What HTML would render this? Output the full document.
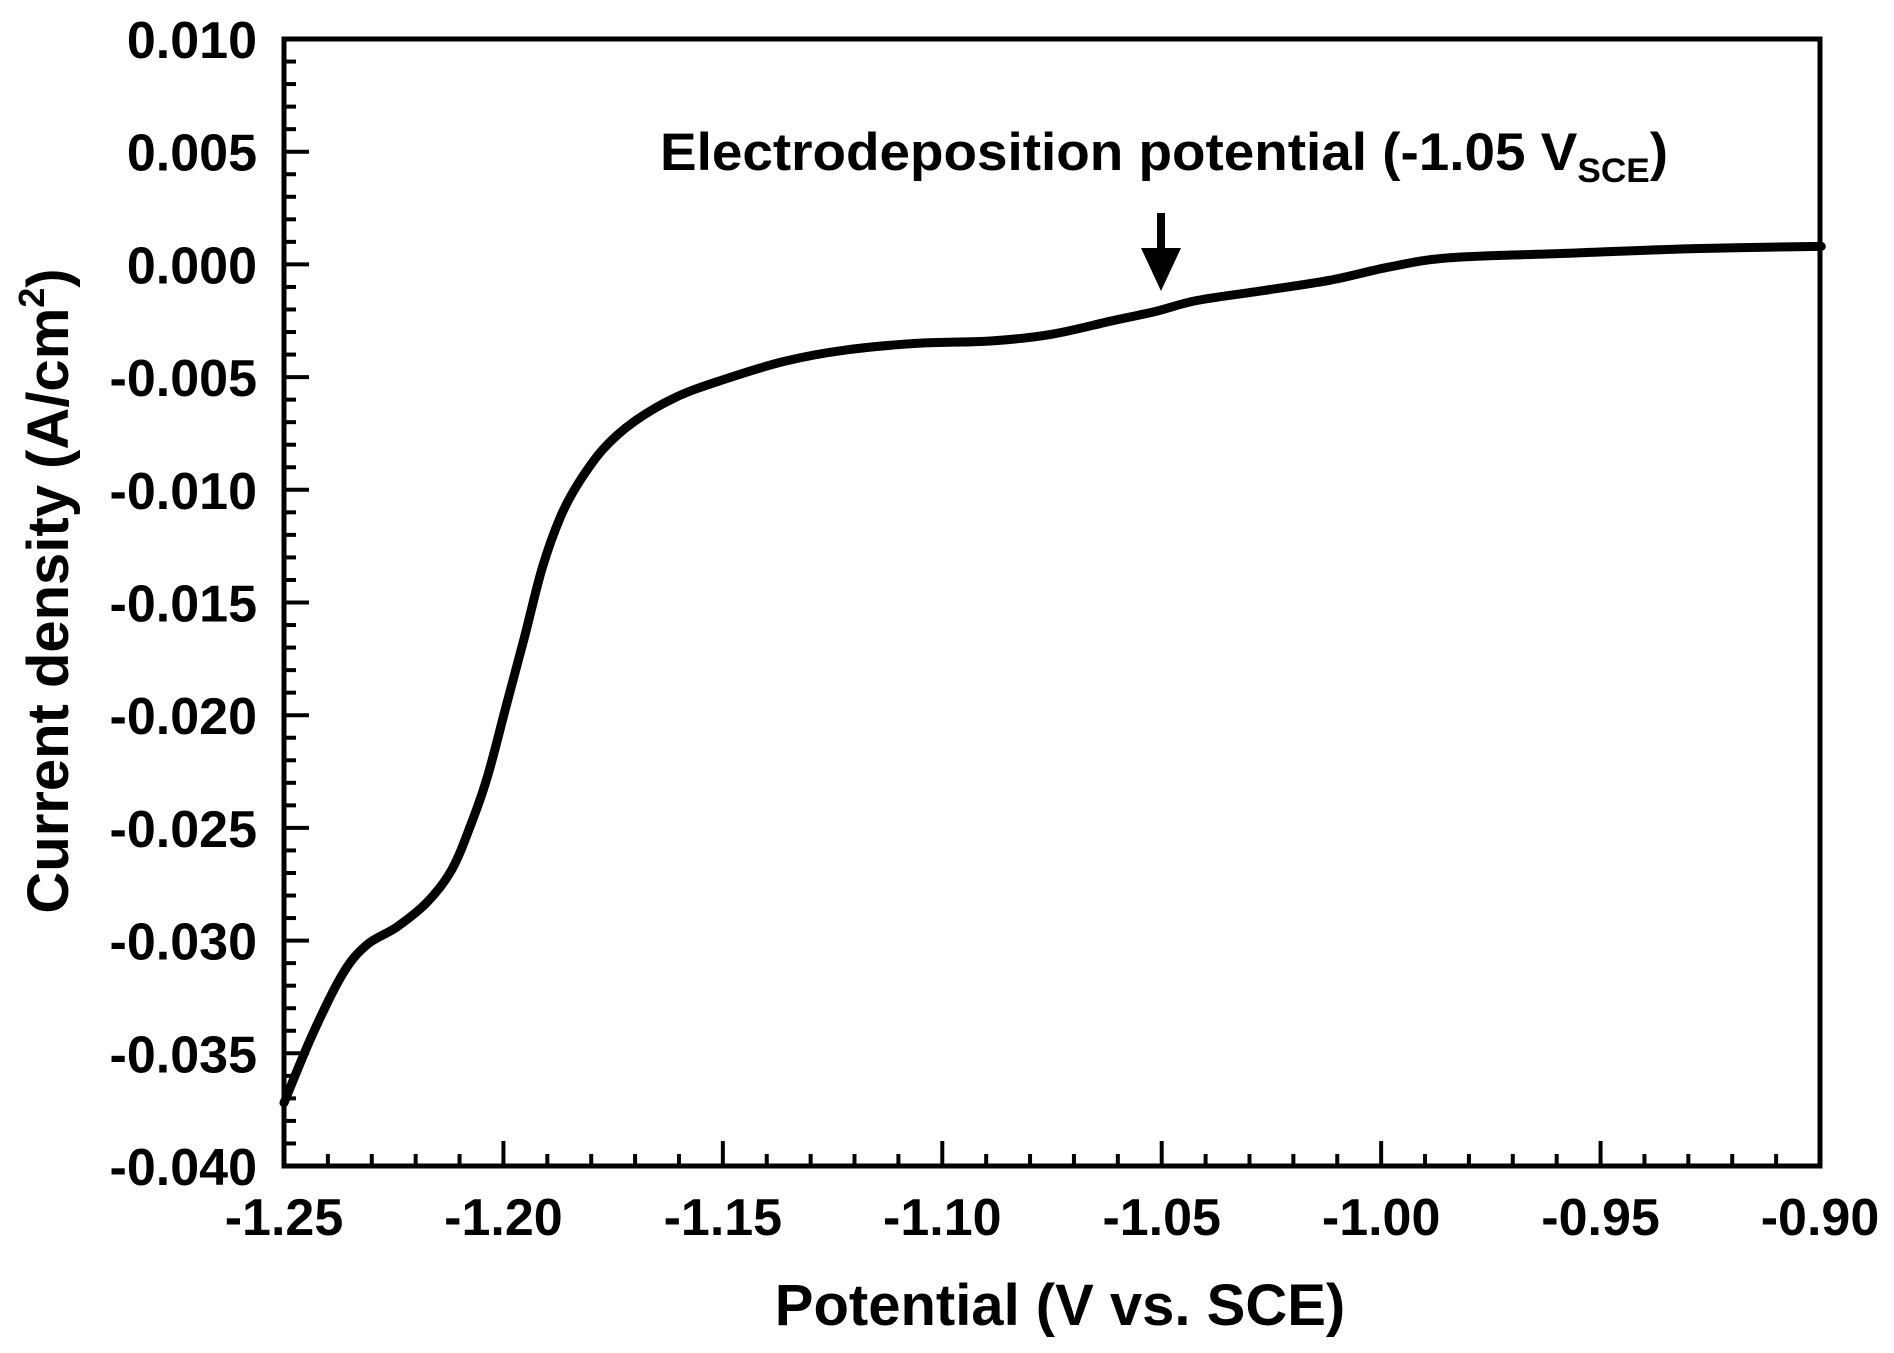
<!DOCTYPE html>
<html><head><meta charset="utf-8"><style>
html,body{margin:0;padding:0;background:#fff;}
svg{display:block;font-family:"Liberation Sans",Arial,sans-serif;font-weight:bold;}
</style></head><body>
<svg id="chart" width="1894" height="1353" viewBox="0 0 1894 1353" xmlns="http://www.w3.org/2000/svg">
<g id="ticks"></g>
<g id="labels"></g>
<rect x="284" y="39" width="1536" height="1127" fill="none" stroke="#000" stroke-width="5"/>
<path id="curve" fill="none" stroke="#000" stroke-width="9" stroke-linejoin="round" stroke-linecap="round"/>
<text x="1060" y="1325" font-size="58" text-anchor="middle">Potential (V vs. SCE)</text>
<text transform="translate(68,591) rotate(-90)" font-size="58" text-anchor="middle">Current density (A/cm<tspan font-size="36" dy="-24">2</tspan><tspan dy="24">)</tspan></text>
<text x="660" y="170" font-size="53" textLength="1008" lengthAdjust="spacingAndGlyphs">Electrodeposition potential (-1.05 V<tspan font-size="34" dy="12">SCE</tspan><tspan dy="-12">)</tspan></text>
<g>
<line x1="1161" y1="213" x2="1161" y2="255" stroke="#000" stroke-width="8"/>
<polygon points="1141,248 1181,248 1161,291" fill="#000"/>
</g>
</svg>
<script>
const potentials=[-1.25,-1.2436,-1.2367,-1.2312,-1.2243,-1.2174,-1.2119,-1.2077,-1.2036,-1.1994,-1.1953,-1.1912,-1.1870,-1.1829,-1.1773,-1.1704,-1.1608,-1.1497,-1.1359,-1.1221,-1.1055,-1.0890,-1.0751,-1.0613,-1.0517,-1.0420,-1.0282,-1.0116,-0.9978,-0.9840,-0.9564,-0.9287,-0.8997];
const currents=[-0.0372,-0.0342,-0.0315,-0.0302,-0.0294,-0.0283,-0.0269,-0.0250,-0.0227,-0.0196,-0.0166,-0.0135,-0.0112,-0.0097,-0.0082,-0.0070,-0.0059,-0.0051,-0.0043,-0.0038,-0.0035,-0.0034,-0.0031,-0.0025,-0.0021,-0.0016,-0.0012,-0.0007,-0.0001,0.0003,0.0005,0.0007,0.0008];
const xTicks=[-1.25,-1.20,-1.15,-1.10,-1.05,-1.00,-0.95,-0.90];
const xTickLabels=["-1.25","-1.20","-1.15","-1.10","-1.05","-1.00","-0.95","-0.90"];
const yTicks=[0.010,0.005,0.000,-0.005,-0.010,-0.015,-0.020,-0.025,-0.030,-0.035,-0.040];
const yTickLabels=["0.010","0.005","0.000","-0.005","-0.010","-0.015","-0.020","-0.025","-0.030","-0.035","-0.040"];

const X0=284,X1=1820,Y0=39,Y1=1166;
function xs(v){return X0+(v+1.25)/0.35*(X1-X0);}
function ys(v){return Y0+(0.010-v)/0.050*(Y1-Y0);}
const NS="http://www.w3.org/2000/svg";
const tg=document.getElementById('ticks'),lg=document.getElementById('labels');
function line(x1,y1,x2,y2,name){
  const l=document.createElementNS(NS,'line');
  l.setAttribute('x1',x1);l.setAttribute('y1',y1);l.setAttribute('x2',x2);l.setAttribute('y2',y2);
  l.setAttribute('stroke','#000');l.setAttribute('stroke-width','4');
  
  
  tg.appendChild(l);
}
for(let i=0;i<=35;i++){
  const v=-1.25+i*0.01;const x=xs(v);
  const major=(i%5===0);
  line(x,Y1,x,Y1-(major?25:12),major?'x-major-tick':'x-minor-tick');
}
for(let i=0;i<=50;i++){
  const v=0.010-i*0.001;const y=ys(v);
  const major=(i%5===0);
  line(X0,y,X0+(major?25:12),y,major?'y-major-tick':'y-minor-tick');
}
xTicks.forEach((v,i)=>{
  const t=document.createElementNS(NS,'text');
  t.setAttribute('x',xs(v));t.setAttribute('y',1235);t.setAttribute('font-size','52');t.setAttribute('text-anchor','middle');
  t.textContent=xTickLabels[i];
  
  
  lg.appendChild(t);
});
yTicks.forEach((v,i)=>{
  const t=document.createElementNS(NS,'text');
  t.setAttribute('x',257);t.setAttribute('y',ys(v)+19);t.setAttribute('font-size','52');t.setAttribute('text-anchor','end');
  t.textContent=yTickLabels[i];
  
  
  lg.appendChild(t);
});
const pts=potentials.map((p,i)=>[xs(p),ys(currents[i])]);
let d='M'+pts[0][0].toFixed(1)+','+pts[0][1].toFixed(1);
for(let i=0;i<pts.length-1;i++){
  const p0=pts[Math.max(0,i-1)],p1=pts[i],p2=pts[i+1],p3=pts[Math.min(pts.length-1,i+2)];
  const c1x=p1[0]+(p2[0]-p0[0])/6,c1y=p1[1]+(p2[1]-p0[1])/6;
  const c2x=p2[0]-(p3[0]-p1[0])/6,c2y=p2[1]-(p3[1]-p1[1])/6;
  d+=' C'+c1x.toFixed(1)+','+c1y.toFixed(1)+' '+c2x.toFixed(1)+','+c2y.toFixed(1)+' '+p2[0].toFixed(1)+','+p2[1].toFixed(1);
}
document.getElementById('curve').setAttribute('d',d);
</script>
</body></html>
